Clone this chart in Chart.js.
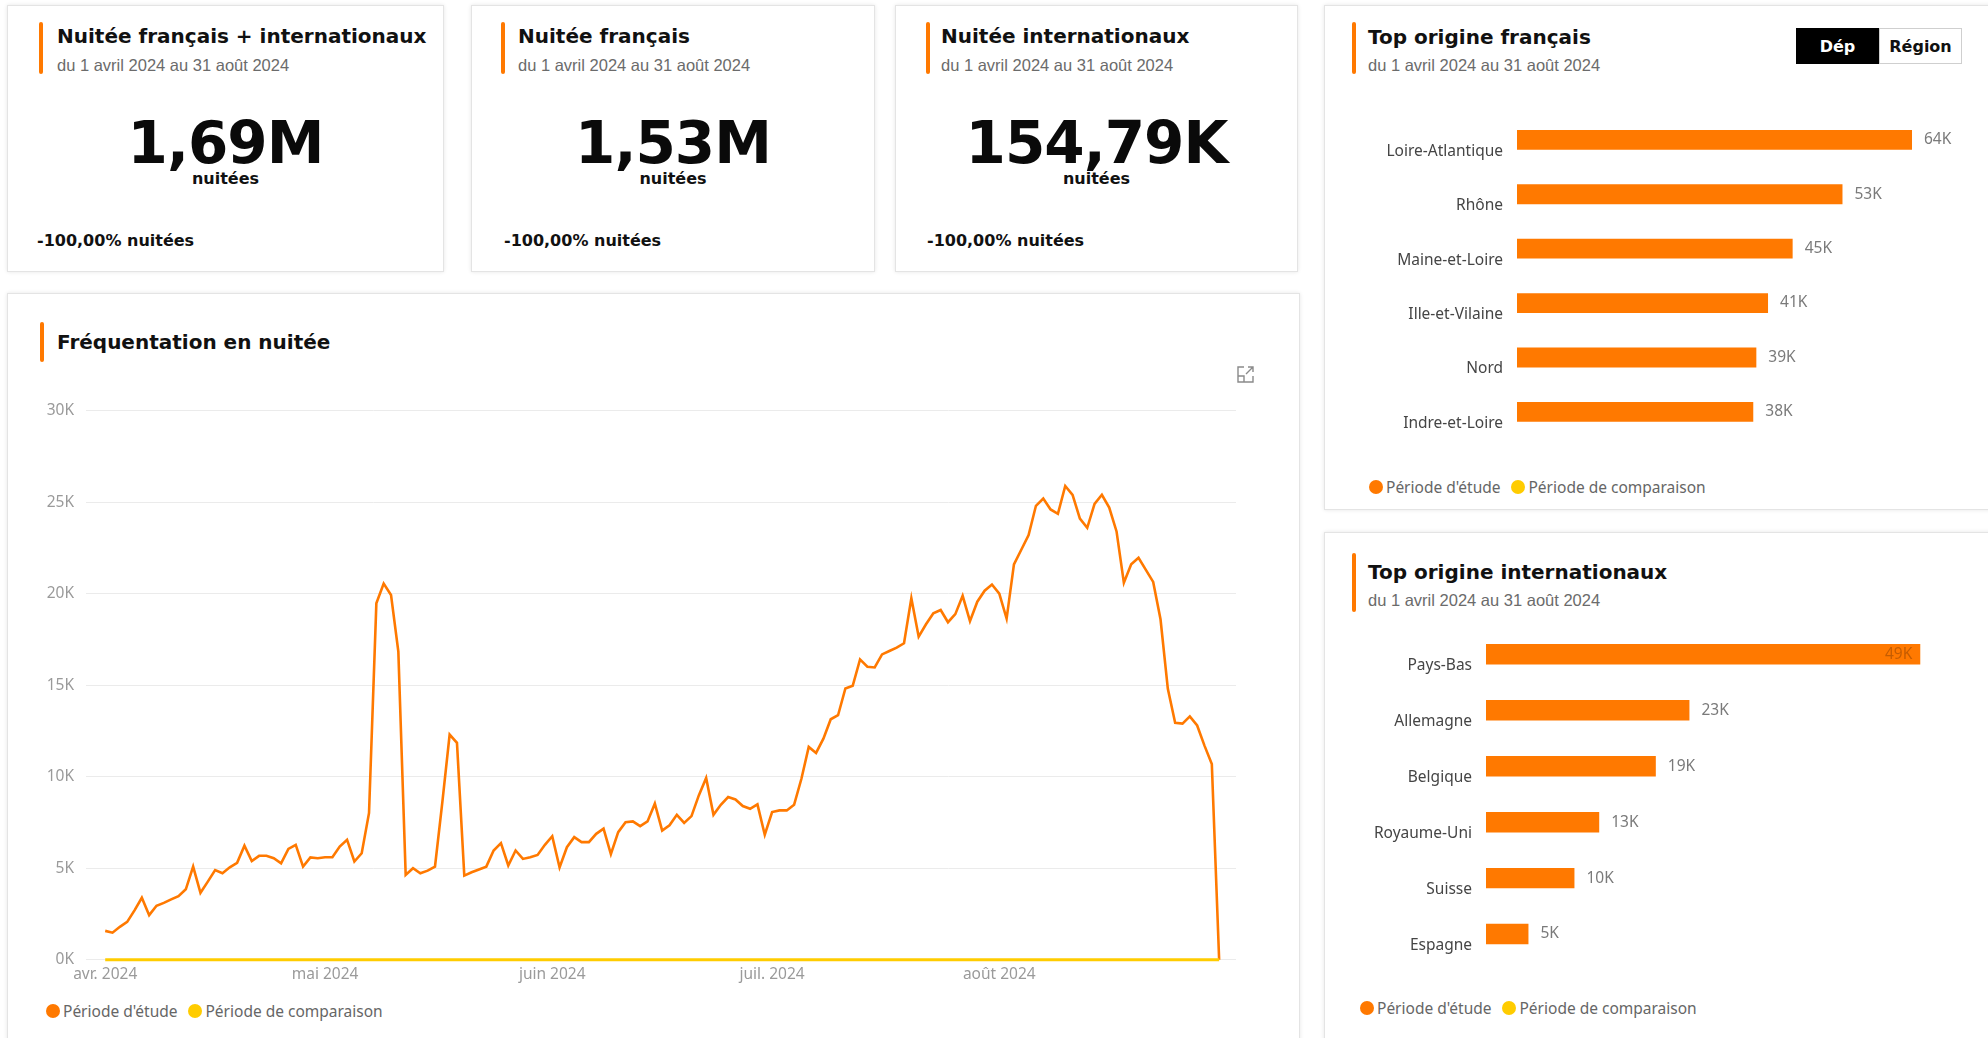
<!DOCTYPE html>
<html lang="fr">
<head>
<meta charset="utf-8">
<title>Nuitées</title>
<script src="https://cdn.jsdelivr.net/npm/chart.js"></script>
<style>
  html, body { margin: 0; padding: 0; background: #fff; }
  #page { position: relative; width: 1988px; height: 1038px; overflow: hidden; background: #fff; }
  .card { position: absolute; background: #fff; border: 1px solid #e4e4e4; box-shadow: 0 0 4px rgba(0,0,0,0.10); box-sizing: border-box; }
  .accent { position: absolute; width: 4px; background: #FF7900; border-radius: 2px; }
  .title { position: absolute; font-family: "DejaVu Sans", sans-serif; font-weight: bold; font-size: 20px; line-height: 24px; color: #111; white-space: nowrap; }
  .sub { position: absolute; font-family: "Liberation Sans", Arial, sans-serif; font-size: 16.5px; line-height: 20px; color: #6b6b6b; white-space: nowrap; }
  .big { position: absolute; font-family: "DejaVu Sans", sans-serif; font-weight: bold; font-size: 58px; line-height: 58px; color: #0a0a0a; text-align: center; white-space: nowrap; letter-spacing: -1px; }
  .unit { position: absolute; font-family: "DejaVu Sans", sans-serif; font-weight: bold; font-size: 16px; line-height: 16px; color: #111; text-align: center; }
  .evol { position: absolute; font-family: "DejaVu Sans", sans-serif; font-weight: bold; font-size: 16px; line-height: 16px; color: #111; white-space: nowrap; }
  .legend { position: absolute; font-family: "Noto Sans", sans-serif; font-size: 15.5px; color: #666; display: flex; align-items: center; white-space: nowrap; }
  .legend .dot { width: 14px; height: 14px; border-radius: 50%; margin-right: 3px; }
  .legend .item { display: flex; align-items: center; margin-right: 11px; }
  canvas { position: absolute; }
  .tog { position: absolute; font-family: "DejaVu Sans", sans-serif; font-weight: bold; font-size: 16px; display: flex; align-items: center; justify-content: center; box-sizing: border-box; }
</style>
</head>
<body>
<div id="page">

  <!-- cartes KPI -->
  <div class="card" style="left:7px;top:5px;width:437px;height:267px"></div>
  <div class="accent" style="left:39px;top:22px;height:52px"></div>
  <div class="title" style="left:57px;top:24px">Nuitée français + internationaux</div>
  <div class="sub" style="left:57px;top:55px">du 1 avril 2024 au 31 août 2024</div>
  <div class="big" id="kpi1" style="left:7px;width:437px;top:114px"></div>
  <div class="unit" style="left:7px;width:437px;top:171px">nuitées</div>
  <div class="evol" id="evol1" style="left:37px;top:233px"></div>

  <div class="card" style="left:471px;top:5px;width:404px;height:267px"></div>
  <div class="accent" style="left:501px;top:22px;height:52px"></div>
  <div class="title" style="left:518px;top:24px">Nuitée français</div>
  <div class="sub" style="left:518px;top:55px">du 1 avril 2024 au 31 août 2024</div>
  <div class="big" id="kpi2" style="left:471px;width:404px;top:114px"></div>
  <div class="unit" style="left:471px;width:404px;top:171px">nuitées</div>
  <div class="evol" id="evol2" style="left:504px;top:233px"></div>

  <div class="card" style="left:895px;top:5px;width:403px;height:267px"></div>
  <div class="accent" style="left:926px;top:22px;height:52px"></div>
  <div class="title" style="left:941px;top:24px">Nuitée internationaux</div>
  <div class="sub" style="left:941px;top:55px">du 1 avril 2024 au 31 août 2024</div>
  <div class="big" id="kpi3" style="left:895px;width:403px;top:114px"></div>
  <div class="unit" style="left:895px;width:403px;top:171px">nuitées</div>
  <div class="evol" id="evol3" style="left:927px;top:233px"></div>

  <!-- courbe -->
  <div class="card" style="left:7px;top:293px;width:1293px;height:760px"></div>
  <div class="accent" style="left:40px;top:322px;height:40px"></div>
  <div class="title" style="left:57px;top:330px">Fréquentation en nuitée</div>
  <svg style="position:absolute;left:1236px;top:365px" width="19" height="19" viewBox="0 0 19 19">
    <path d="M8 2 H2 V17 H17 V11" fill="none" stroke="#8a8a8a" stroke-width="1.4"/>
    <path d="M2 11 H8 V17" fill="none" stroke="#8a8a8a" stroke-width="1.4"/>
    <path d="M10 9 L17 2 M12 2 H17 V7" fill="none" stroke="#8a8a8a" stroke-width="1.4"/>
  </svg>
  <canvas id="lineChart" width="1240" height="600" style="left:9px;top:395px"></canvas>
  <div class="legend" style="left:46px;top:1000px">
    <div class="item"><div class="dot" style="background:#FF7900"></div>Période d'étude</div>
    <div class="item"><div class="dot" style="background:#FFCC00"></div>Période de comparaison</div>
  </div>

  <!-- top origine français -->
  <div class="card" style="left:1324px;top:5px;width:680px;height:505px"></div>
  <div class="accent" style="left:1352px;top:22px;height:52px"></div>
  <div class="title" style="left:1368px;top:25px">Top origine français</div>
  <div class="sub" style="left:1368px;top:55px">du 1 avril 2024 au 31 août 2024</div>
  <div class="tog" style="left:1796px;top:28px;width:83px;height:36px;background:#000;color:#fff">Dép</div>
  <div class="tog" style="left:1879px;top:28px;width:83px;height:36px;background:#fff;color:#111;border:1px solid #cfcfcf">Région</div>
  <canvas id="depChart" width="650" height="360" style="left:1330px;top:110px"></canvas>
  <div class="legend" style="left:1369px;top:476px">
    <div class="item"><div class="dot" style="background:#FF7900"></div>Période d'étude</div>
    <div class="item"><div class="dot" style="background:#FFCC00"></div>Période de comparaison</div>
  </div>

  <!-- top origine internationaux -->
  <div class="card" style="left:1324px;top:532px;width:680px;height:520px"></div>
  <div class="accent" style="left:1352px;top:553px;height:59px"></div>
  <div class="title" style="left:1368px;top:560px">Top origine internationaux</div>
  <div class="sub" style="left:1368px;top:590px">du 1 avril 2024 au 31 août 2024</div>
  <canvas id="paysChart" width="650" height="370" style="left:1330px;top:620px"></canvas>
  <div class="legend" style="left:1360px;top:997px">
    <div class="item"><div class="dot" style="background:#FF7900"></div>Période d'étude</div>
    <div class="item"><div class="dot" style="background:#FFCC00"></div>Période de comparaison</div>
  </div>
</div>

<script>
// chiffres clés
var kpiValues = ["1,69M", "1,53M", "154,79K"];
var kpiEvolution = ["-100,00% nuitées", "-100,00% nuitées", "-100,00% nuitées"];

// nuitées par jour, du 1 avril au 31 août 2024 (153 jours)
var etudeNuitees = [
  1580, 1480, 1800, 2070, 2700, 3390, 2440, 2950, 3110, 3300,
  3480, 3850, 5090, 3660, 4270, 4900, 4730, 5050, 5300, 6230,
  5400, 5680, 5680, 5550, 5270, 6060, 6280, 5090, 5590, 5550,
  5600, 5600, 6190, 6560, 5370, 5820, 8020, 19470, 20550, 19930,
  16830, 4640, 5000, 4730, 4870, 5090, 8600, 12300, 11850, 4600,
  4780, 4930, 5090, 5970, 6370, 5150, 5970, 5510, 5600, 5730,
  6280, 6750, 5050, 6150, 6700, 6430, 6430, 6880, 7160, 5770,
  6970, 7520, 7560, 7300, 7560, 8530, 7060, 7350, 7920, 7480,
  7850, 8980, 9930, 7920, 8470, 8890, 8760, 8400, 8250, 8490,
  6830, 8070, 8160, 8160, 8470, 9890, 11630, 11300, 12080, 13140,
  13360, 14820, 14970, 16410, 16010, 15970, 16680, 16870, 17050, 17290,
  19750, 17650, 18330, 18930, 19110, 18440, 18880, 19880, 18500, 19560,
  20160, 20500, 20000, 18640, 21600, 22400, 23200, 24800, 25200, 24600,
  24360, 25880, 25400, 24100, 23600, 24900, 25400, 24700, 23400, 20600,
  21600, 21960, 21300, 20640, 18600, 14800, 12940, 12900, 13300, 12800,
  11700, 10700, 0
];
var comparaisonNuitees = [
  0, 0, 0, 0, 0, 0, 0, 0, 0, 0, 0, 0, 0, 0, 0, 0, 0, 0, 0, 0,
  0, 0, 0, 0, 0, 0, 0, 0, 0, 0, 0, 0, 0, 0, 0, 0, 0, 0, 0, 0,
  0, 0, 0, 0, 0, 0, 0, 0, 0, 0, 0, 0, 0, 0, 0, 0, 0, 0, 0, 0,
  0, 0, 0, 0, 0, 0, 0, 0, 0, 0, 0, 0, 0, 0, 0, 0, 0, 0, 0, 0,
  0, 0, 0, 0, 0, 0, 0, 0, 0, 0, 0, 0, 0, 0, 0, 0, 0, 0, 0, 0,
  0, 0, 0, 0, 0, 0, 0, 0, 0, 0, 0, 0, 0, 0, 0, 0, 0, 0, 0, 0,
  0, 0, 0, 0, 0, 0, 0, 0, 0, 0, 0, 0, 0, 0, 0, 0, 0, 0, 0, 0,
  0, 0, 0, 0, 0, 0, 0, 0, 0, 0, 0, 0, 0
];
// index du 1er jour de chaque mois
var moisIndex = [0, 30, 61, 91, 122];
var moisLabels = ["avr. 2024", "mai 2024", "juin 2024", "juil. 2024", "août 2024"];
var yTicks = [0, 5000, 10000, 15000, 20000, 25000, 30000];

// top origine français
var depLabels = ["Loire-Atlantique", "Rhône", "Maine-et-Loire", "Ille-et-Vilaine", "Nord", "Indre-et-Loire"];
var depEtude = [64200, 52900, 44800, 40800, 38900, 38400];
var depComparaison = [0, 0, 0, 0, 0, 0];

// top origine internationaux
var paysLabels = ["Pays-Bas", "Allemagne", "Belgique", "Royaume-Uni", "Suisse", "Espagne"];
var paysEtude = [49100, 23000, 19200, 12800, 10000, 4800];
var paysComparaison = [0, 0, 0, 0, 0, 0];

var ORANGE = "#FF7900";
var YELLOW = "#FFCC00";

for (var k = 0; k < 3; k++) {
    document.getElementById("kpi" + (k + 1)).textContent = kpiValues[k];
    document.getElementById("evol" + (k + 1)).textContent = kpiEvolution[k];
}

Chart.defaults.animation = false;
Chart.defaults.font.family = "'Noto Sans', sans-serif";

function toPoints(arr) {
    return arr.map(function (v, i) { return { x: i, y: v }; });
}

// la marge auto des libellés de l'axe vertical décale la zone de tracé : on la coupe
function noVerticalPadding(s) {
    s.paddingTop = 0;
    s.paddingBottom = 0;
}

new Chart(document.getElementById("lineChart").getContext("2d"), {
    type: "line",
    data: {
        datasets: [
            { label: "Période de comparaison", data: toPoints(comparaisonNuitees), borderColor: YELLOW, borderWidth: 3, pointRadius: 0, tension: 0, clip: false },
            { label: "Période d'étude", data: toPoints(etudeNuitees), borderColor: ORANGE, borderWidth: 2.6, pointRadius: 0, tension: 0, clip: 4 }
        ]
    },
    options: {
        responsive: false,
        devicePixelRatio: 1,
        layout: { padding: { top: 15.6, right: 13, left: 0, bottom: 0 } },
        plugins: { legend: { display: false }, tooltip: { enabled: false } },
        scales: {
            x: {
                type: "linear", min: -2.62, max: 154.3,
                grid: { display: false }, border: { display: false },
                afterBuildTicks: function (s) { s.ticks = moisIndex.map(function (v) { return { value: v }; }); },
                afterFit: function (s) { s.height = 35.2; },
                ticks: {
                    autoSkip: false, maxRotation: 0, padding: -2.5, color: "#9a9a9a",
                    font: { size: 15.5 },
                    callback: function (v) { return moisLabels[moisIndex.indexOf(v)]; }
                }
            },
            y: {
                min: 0, max: 30000,
                grid: { color: "#ebebeb", drawTicks: false }, border: { display: false },
                afterBuildTicks: function (s) { s.ticks = yTicks.map(function (v) { return { value: v }; }); },
                afterFit: function (s) { s.width = 77; noVerticalPadding(s); },
                ticks: {
                    padding: 12, color: "#9a9a9a", font: { size: 15.5 },
                    callback: function (v) { return (v / 1000) + "K"; }
                }
            }
        }
    }
});

// étiquettes de valeur au bout des barres
var valueLabels = {
    id: "valueLabels",
    afterDatasetsDraw: function (chart) {
        var ctx = chart.ctx;
        var meta = chart.getDatasetMeta(0);
        var vals = chart.data.datasets[0].data;
        ctx.save();
        ctx.font = "15.5px 'Noto Sans'";
        ctx.textBaseline = "middle";
        meta.data.forEach(function (bar, i) {
            var txt = Math.round(vals[i] / 1000) + "K";
            var w = ctx.measureText(txt).width;
            if (bar.x + 12 + w > chart.chartArea.right) {
                ctx.fillStyle = "rgba(150,70,0,0.55)";
                ctx.textAlign = "right";
                ctx.fillText(txt, bar.x - 8, bar.y);
            } else {
                ctx.fillStyle = "#7a7a7a";
                ctx.textAlign = "left";
                ctx.fillText(txt, bar.x + 12, bar.y);
            }
        });
        ctx.restore();
    }
};

function barChart(id, labels, etude, comparaison, max, axisWidth, padding) {
    return new Chart(document.getElementById(id).getContext("2d"), {
        type: "bar",
        data: {
            labels: labels,
            datasets: [
                { label: "Période d'étude", data: etude, backgroundColor: ORANGE, categoryPercentage: 0.84, barPercentage: 0.87 },
                { label: "Période de comparaison", data: comparaison, backgroundColor: YELLOW, categoryPercentage: 0.84, barPercentage: 0.87 }
            ]
        },
        options: {
            indexAxis: "y",
            responsive: false,
            devicePixelRatio: 1,
            layout: { padding: padding },
            plugins: { legend: { display: false }, tooltip: { enabled: false } },
            scales: {
                x: { display: false, min: 0, max: max },
                y: {
                    grid: { display: false, drawTicks: false }, border: { display: false },
                    afterFit: function (s) { s.width = axisWidth; noVerticalPadding(s); },
                    ticks: { padding: 14, color: "#454545", font: { size: 15.5 } }
                }
            }
        },
        plugins: [valueLabels]
    });
}

barChart("depChart", depLabels, depEtude, depComparaison, 72000, 187, { top: 14.1, right: 20, bottom: 19.5, left: 0 });
barChart("paysChart", paysLabels, paysEtude, paysComparaison, 50200, 156, { top: 18.1, right: 50, bottom: 16.2, left: 0 });
</script>
</body>
</html>
